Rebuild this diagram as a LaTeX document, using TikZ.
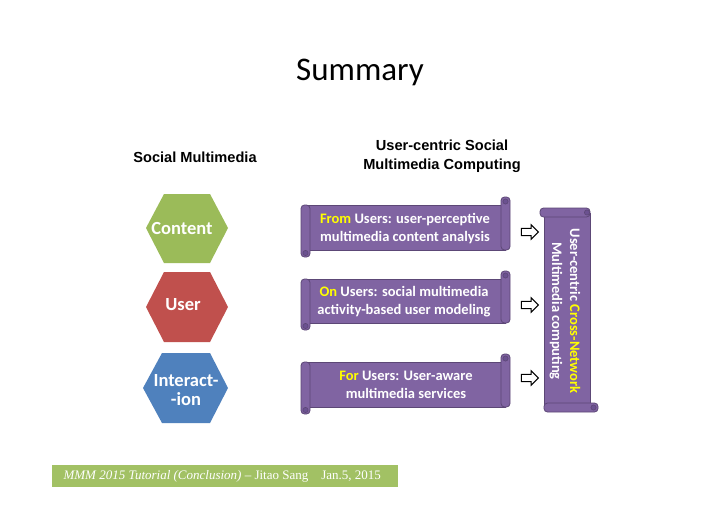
\documentclass[tikz,border=0pt]{standalone}
\usepackage{fontspec}
\setmainfont{Carlito}
\newfontfamily\arialfont{Liberation Sans}
\newfontfamily\timesfont{Liberation Serif}
\usetikzlibrary{shapes.arrows}

\definecolor{hexgreen}{HTML}{9BBB59}
\definecolor{hexred}{HTML}{C0504D}
\definecolor{hexblue}{HTML}{4F81BD}
\definecolor{scrollfill}{HTML}{8064A2}
\definecolor{scrolledge}{HTML}{5C4776}
\definecolor{scrolldark}{HTML}{6B5190}
\definecolor{footgreen}{HTML}{A2C164}
\definecolor{keyword}{HTML}{FFFF00}

\tikzset{
  scrollpart/.style={fill=scrollfill, draw=scrolledge, line width=0.8},
  curl/.style={fill=scrolldark, draw=scrolledge, line width=0.6},
  hexlabel/.style={text=white, font=\fontsize{18.5}{19}\selectfont\bfseries, align=center},
  scrolltext/.style={text=white, font=\fontsize{14.5}{18}\selectfont\bfseries, align=center},
  heading/.style={font=\arialfont\fontsize{14.6}{19}\selectfont\bfseries, align=center},
  blockarrow/.style={single arrow, draw=black, fill=white, line width=1,
    minimum height=17, inner xsep=0, inner ysep=3.2, single arrow head extend=3.5},
}

% horizontal scroll, body from (#1,#2) to (#3,#4)
\newcommand{\hscroll}[4]{%
  \draw[scrollpart] (#1+5,#2) rectangle (#3-5,#4);
  \draw[scrollpart, rounded corners=3.5] (#3-9,#2-8) rectangle (#3,#4);
  \draw[curl] (#3-4.5,#2-3.5) circle (2.6);
  \draw[scrollpart, rounded corners=3.5] (#1,#2) rectangle (#1+9,#4+7);
  \draw[curl] (#1+4.5,#4+3) circle (2.6);
}
% vertical scroll, body from (#1,#2) to (#3,#4)
\newcommand{\vscroll}[4]{%
  \draw[scrollpart] (#1,#2+5) rectangle (#3,#4-5);
  \draw[scrollpart, rounded corners=3.5] (#1-4,#2) rectangle (#3,#2+9);
  \draw[curl] (#3-3,#2+4.5) circle (2.6);
  \draw[scrollpart, rounded corners=3.5] (#1,#4-9) rectangle (#3+8,#4);
  \draw[curl] (#3+3.5,#4-4.5) circle (2.6);
}

\begin{document}
\begin{tikzpicture}[x=1pt,y=-1pt]
  \useasboundingbox (0,0) rectangle (720,509);
  \fill[white] (0,0) rectangle (720,509);

  \node (title) at (360,72) {\fontsize{33}{36}\selectfont Summary};
  \node[heading] (sm) at (195,157) {Social Multimedia};
  \node[heading] (ucsmc) at (442,156) {User-centric Social\\Multimedia Computing};

  % hexagons
  \fill[hexgreen] (146,228) -- (164,194) -- (210,194) -- (228,228) -- (210,263) -- (164,263) -- cycle;
  \fill[hexred] (146,307) -- (164,272) -- (210,272) -- (228,307) -- (210,342) -- (164,342) -- cycle;
  \fill[hexblue] (143,388) -- (162,353) -- (210,353) -- (228,388) -- (210,423) -- (162,423) -- cycle;
  \node[hexlabel] (content) at (182,228) {Content};
  \node[hexlabel] (user) at (183,305) {User};
  \node[hexlabel] (interact) at (186,390) {Interact-\\-ion};

  % scrolls
  \hscroll{301}{205}{510}{250}
  \hscroll{301}{279}{510}{323}
  \hscroll{301}{362}{510}{407}
  \vscroll{544}{208}{590}{412}
  \node[scrolltext] (from) at (405,229) {\textcolor{keyword}{From} Users: user-perceptive\\multimedia content analysis};
  \node[scrolltext] (on) at (404,302) {\textcolor{keyword}{On} Users: social multimedia\\activity-based user modeling};
  \node[scrolltext] (for) at (406,385) {\textcolor{keyword}{For} Users: User-aware\\multimedia services};
  \node[scrolltext, rotate=-90] (xnet) at (565,311) {User-centric \textcolor{keyword}{Cross-Network}\\Multimedia computing};

  \node[blockarrow] (a1) at (528,232) {};
  \node[blockarrow] (a2) at (528,305) {};
  \node[blockarrow] (a3) at (528,378) {};

  % footer
  \fill[footgreen] (52,465) rectangle (398,487);
  \node[anchor=west, text=white, font=\timesfont\fontsize{13}{13}\selectfont] (foot) at (60,476)
    {\textit{MMM 2015 Tutorial (Conclusion)} – Jitao Sang\quad Jan.5, 2015};
\end{tikzpicture}
\end{document}
